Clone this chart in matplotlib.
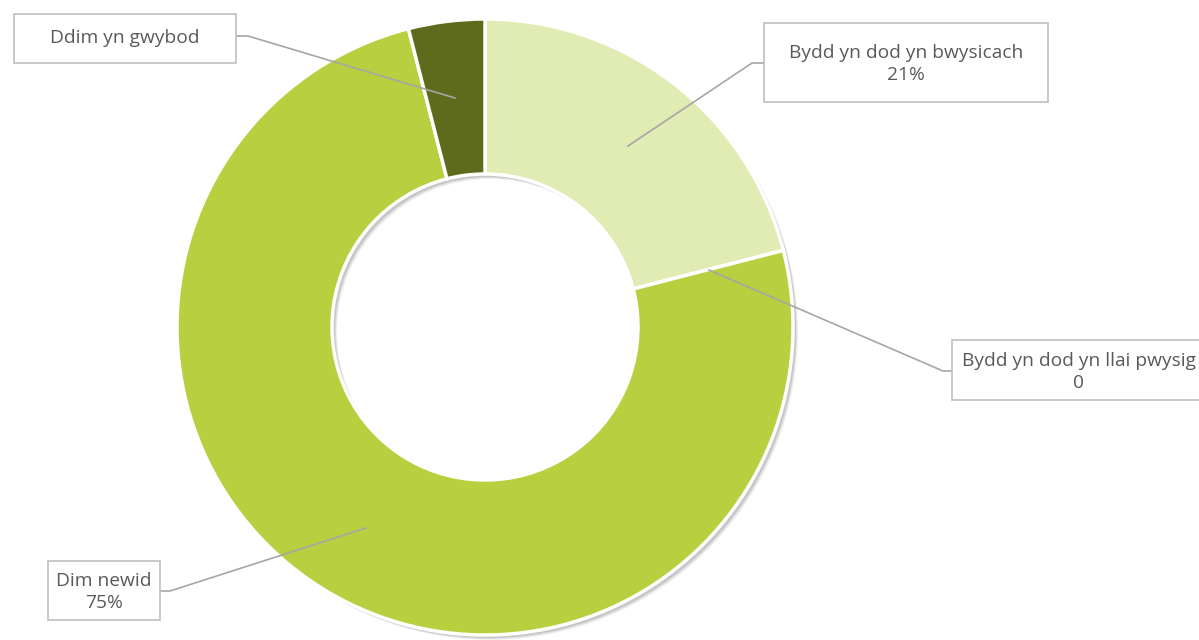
import matplotlib.pyplot as plt
from matplotlib.patches import Rectangle

# data
categories = ["Bydd yn dod yn bwysicach", "Bydd yn dod yn llai pwysig", "Dim newid", "Ddim yn gwybod"]
values = [21, 0, 75, 4]
label_texts = ["Bydd yn dod yn bwysicach\n21%", "Bydd yn dod yn llai pwysig\n0", "Dim newid\n75%", "Ddim yn gwybod"]
colors = ["#e1ebb4", "#b8cf3f", "#b8cf3f", "#5e6b1c"]

W, H = 1199, 640
fig = plt.figure(figsize=(W / 100, H / 100), dpi=100)
ax = fig.add_axes([0, 0, 1, 1])

cx, cy = 485, H - 327
R, r_in = 308, 153

# soft shadow
for off, a in [(5, 0.06), (4, 0.08), (3, 0.10)]:
    ax.pie([1], radius=R, center=(cx + off, cy - off), colors=["#000000"],
           wedgeprops=dict(width=R - r_in, alpha=a, linewidth=0), startangle=90)

wedges, _ = ax.pie(values, radius=R, center=(cx, cy), colors=colors, startangle=90,
                   counterclock=False,
                   wedgeprops=dict(width=R - r_in, edgecolor="white", linewidth=2.5))

# label boxes (x0, y0, x1, y1 in image pixels), leader points
boxes = [
    (764, 23, 1048, 102),
    (952, 340, 1205, 400),
    (48, 561, 160, 620),
    (14, 14, 236, 63),
]
leaders = [
    [(764, 63), (752, 63), (628, 146)],
    [(952, 371), (943, 371), (709, 270)],
    [(160, 591), (170, 591), (366, 528)],
    [(236, 36), (248, 36), (455, 98)],
]
text_centers = [(906, 64), (1079, 372), (104, 592), (125, 38)]

line_col = "#a6a6a6"
for (x0, y0, x1, y1), pts, (tx, ty), txt in zip(boxes, leaders, text_centers, label_texts):
    ax.add_patch(Rectangle((x0, H - y1), x1 - x0, y1 - y0, facecolor="white",
                           edgecolor="#bfbfbf", linewidth=1.2, zorder=5))
    ax.plot([p[0] for p in pts], [H - p[1] for p in pts], color=line_col, lw=1.2, zorder=4)
    ax.text(tx, H - ty, txt, ha="center", va="center", fontsize=13.8, color="#595959",
            family=["Open Sans", "DejaVu Sans"], linespacing=1.3, zorder=6)

ax.set_xlim(0, W)
ax.set_ylim(0, H)
ax.set_aspect("equal")
ax.axis("off")
fig.savefig("out.png", dpi=100)
